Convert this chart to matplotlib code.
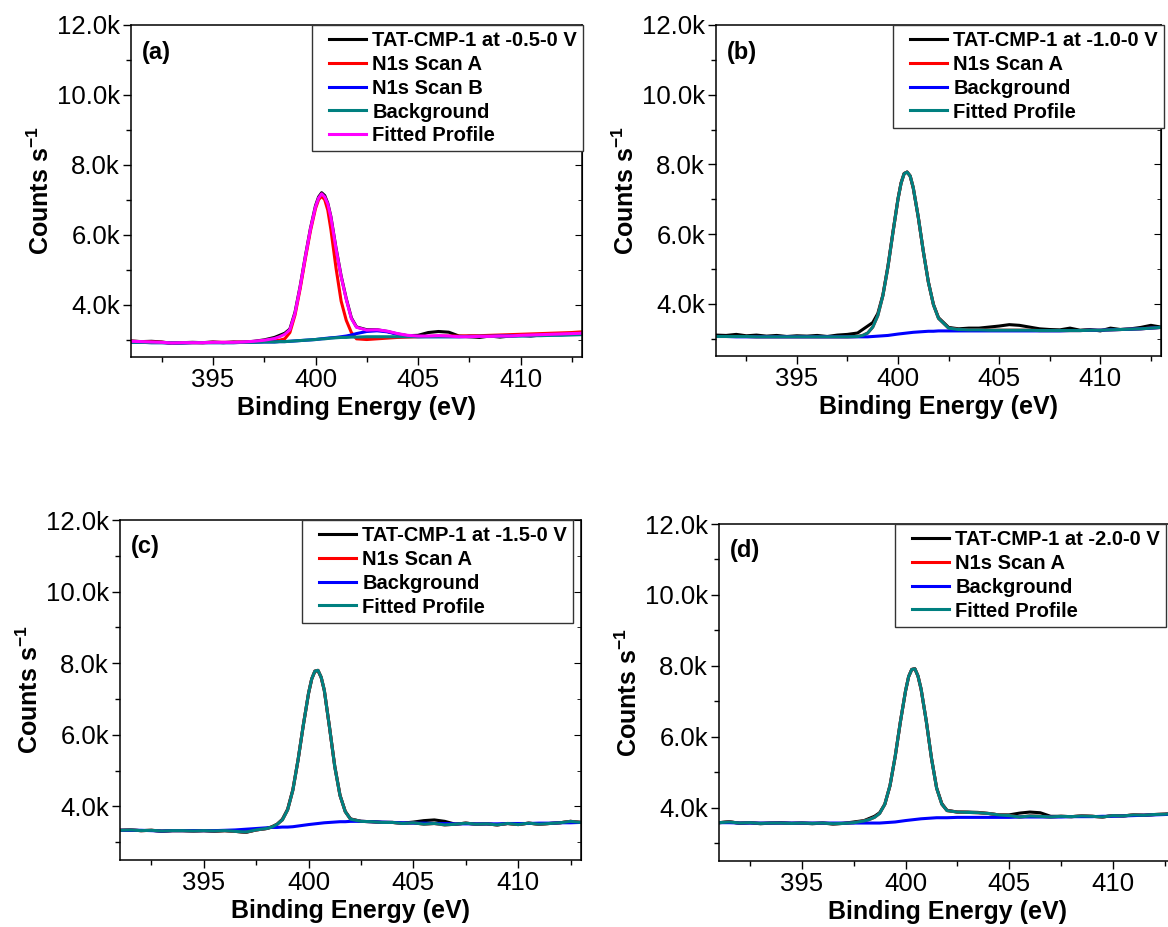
import matplotlib
matplotlib.use("Agg")
import matplotlib.pyplot as plt
from matplotlib.lines import Line2D
from matplotlib.legend_handler import HandlerLine2D
from matplotlib.ticker import AutoMinorLocator, FuncFormatter

plt.rcParams['font.family'] = ['Liberation Sans', 'DejaVu Sans']
plt.rcParams['mathtext.fontset'] = 'custom'
plt.rcParams['mathtext.rm'] = 'Liberation Sans:bold'
plt.rcParams['mathtext.bf'] = 'Liberation Sans:bold'
plt.rcParams['mathtext.default'] = 'bf'

# binding energy grid (eV), denser over the N1s peak
energy = [391, 391.5, 392, 392.5, 393, 393.5, 394, 394.5, 395, 395.5, 396, 396.5, 397, 397.5,
          398, 398.25, 398.5, 398.75, 399, 399.25, 399.5, 399.75, 400, 400.15, 400.3, 400.45,
          400.6, 400.75, 401, 401.25, 401.5, 401.75, 402,
          402.5, 403, 403.5, 404, 404.5, 405, 405.5, 406, 406.5, 407, 407.5, 408, 408.5, 409,
          409.5, 410, 410.5, 411, 411.5, 412, 412.5, 413]

# counts per second, in thousands
# (a) -0.5-0 V
data_a = [2.96, 2.94, 2.95, 2.93, 2.89, 2.91, 2.92, 2.91, 2.93, 2.91, 2.93, 2.92, 2.95, 2.99,
          3.06, 3.12, 3.18, 3.30, 3.78, 4.52, 5.37, 6.17, 6.83, 7.08, 7.20, 7.12, 6.90, 6.52, 5.62, 4.82, 4.17, 3.62, 3.36,
          3.28, 3.28, 3.23, 3.16, 3.11, 3.12, 3.20, 3.23, 3.21, 3.10, 3.08, 3.06, 3.10, 3.07, 3.10, 3.12, 3.10, 3.13, 3.14, 3.15, 3.17, 3.19]
scan_a_a = [2.95, 2.94, 2.93, 2.92, 2.90, 2.91, 2.91, 2.91, 2.92, 2.92, 2.92, 2.93, 2.94, 2.95,
            2.96, 2.98, 3.02, 3.20, 3.70, 4.45, 5.30, 6.10, 6.75, 7.00, 7.10, 7.00, 6.70, 6.15, 5.05, 4.10, 3.55, 3.20, 3.02,
            3.00, 3.02, 3.04, 3.06, 3.07, 3.08, 3.09, 3.10, 3.10, 3.10, 3.11, 3.11, 3.12, 3.13, 3.14, 3.15, 3.16, 3.17, 3.18, 3.19, 3.20, 3.22]
scan_b_a = [2.92, 2.92, 2.91, 2.91, 2.90, 2.90, 2.91, 2.91, 2.91, 2.91, 2.91, 2.92, 2.92, 2.93,
            2.93, 2.94, 2.94, 2.95, 2.96, 2.97, 2.98, 2.99, 3.00, 3.01, 3.02, 3.03, 3.04, 3.05, 3.06, 3.08, 3.10, 3.13, 3.17,
            3.23, 3.25, 3.22, 3.15, 3.10, 3.08, 3.08, 3.08, 3.08, 3.08, 3.09, 3.09, 3.09, 3.10, 3.10, 3.11, 3.11, 3.12, 3.13, 3.14, 3.15, 3.16]
bg_a = [2.92, 2.92, 2.91, 2.91, 2.90, 2.90, 2.91, 2.91, 2.91, 2.91, 2.91, 2.92, 2.92, 2.93,
        2.93, 2.94, 2.94, 2.95, 2.96, 2.97, 2.98, 2.99, 3.00, 3.01, 3.02, 3.02, 3.03, 3.04, 3.05, 3.06, 3.06, 3.07, 3.07,
        3.08, 3.08, 3.08, 3.08, 3.08, 3.08, 3.08, 3.08, 3.08, 3.08, 3.08, 3.09, 3.09, 3.09, 3.10, 3.10, 3.11, 3.11, 3.12, 3.12, 3.13, 3.14]
fit_a = [2.95, 2.94, 2.93, 2.92, 2.90, 2.91, 2.91, 2.91, 2.92, 2.92, 2.92, 2.93, 2.95, 2.98,
         3.03, 3.08, 3.15, 3.28, 3.75, 4.50, 5.35, 6.15, 6.80, 7.05, 7.17, 7.08, 6.88, 6.50, 5.60, 4.80, 4.15, 3.60, 3.35,
         3.27, 3.28, 3.24, 3.17, 3.12, 3.10, 3.10, 3.11, 3.10, 3.08, 3.08, 3.09, 3.09, 3.10, 3.10, 3.12, 3.13, 3.14, 3.15, 3.16, 3.17, 3.18]

# (b) -1.0-0 V
data_b = [3.10, 3.09, 3.12, 3.08, 3.10, 3.07, 3.09, 3.06, 3.08, 3.07, 3.09, 3.06, 3.10, 3.12,
          3.16, 3.26, 3.36, 3.46, 3.72, 4.25, 5.08, 6.07, 7.02, 7.47, 7.74, 7.78, 7.66, 7.32, 6.48, 5.50, 4.62, 3.98, 3.60,
          3.32, 3.28, 3.30, 3.30, 3.33, 3.36, 3.40, 3.38, 3.33, 3.28, 3.26, 3.25, 3.30, 3.24, 3.26, 3.22, 3.30, 3.26, 3.28, 3.32, 3.38, 3.33]
bg_b = [3.06, 3.06, 3.05, 3.05, 3.05, 3.05, 3.05, 3.05, 3.05, 3.05, 3.05, 3.05, 3.05, 3.05,
        3.05, 3.05, 3.05, 3.06, 3.07, 3.08, 3.09, 3.11, 3.13, 3.14, 3.15, 3.16, 3.17, 3.18, 3.19, 3.20, 3.21, 3.21, 3.22,
        3.22, 3.22, 3.22, 3.22, 3.22, 3.22, 3.22, 3.22, 3.22, 3.22, 3.22, 3.22, 3.23, 3.23, 3.24, 3.24, 3.25, 3.26, 3.27, 3.28, 3.30, 3.32]
fit_b = [3.06, 3.06, 3.06, 3.06, 3.05, 3.05, 3.05, 3.05, 3.05, 3.05, 3.05, 3.05, 3.05, 3.05,
         3.06, 3.09, 3.16, 3.33, 3.66, 4.23, 5.05, 6.05, 7.01, 7.46, 7.73, 7.78, 7.67, 7.34, 6.49, 5.50, 4.62, 3.97, 3.58,
         3.30, 3.26, 3.25, 3.25, 3.24, 3.24, 3.24, 3.24, 3.24, 3.23, 3.23, 3.23, 3.23, 3.23, 3.24, 3.24, 3.25, 3.26, 3.27, 3.28, 3.30, 3.32]

# (c) -1.5-0 V
data_c = [3.33, 3.34, 3.32, 3.33, 3.30, 3.32, 3.32, 3.31, 3.32, 3.30, 3.32, 3.30, 3.27, 3.34,
          3.38, 3.43, 3.50, 3.64, 3.92, 4.47, 5.30, 6.28, 7.16, 7.56, 7.77, 7.79, 7.60, 7.23, 6.20, 5.12, 4.31, 3.86, 3.65,
          3.58, 3.57, 3.55, 3.55, 3.53, 3.56, 3.60, 3.62, 3.58, 3.50, 3.53, 3.50, 3.51, 3.48, 3.52, 3.49, 3.53, 3.50, 3.52, 3.54, 3.58, 3.55]
bg_c = [3.33, 3.33, 3.33, 3.32, 3.31, 3.32, 3.32, 3.32, 3.32, 3.32, 3.33, 3.34, 3.36, 3.38,
        3.40, 3.41, 3.41, 3.42, 3.42, 3.43, 3.45, 3.47, 3.49, 3.50, 3.51, 3.52, 3.53, 3.54, 3.55, 3.56, 3.57, 3.57, 3.58,
        3.58, 3.57, 3.56, 3.55, 3.54, 3.53, 3.53, 3.52, 3.52, 3.51, 3.51, 3.51, 3.51, 3.51, 3.52, 3.52, 3.52, 3.53, 3.53, 3.54, 3.54, 3.55]
fit_c = [3.33, 3.34, 3.32, 3.33, 3.31, 3.32, 3.32, 3.31, 3.32, 3.31, 3.32, 3.30, 3.28, 3.34,
         3.38, 3.42, 3.50, 3.62, 3.90, 4.45, 5.31, 6.27, 7.17, 7.56, 7.78, 7.80, 7.61, 7.25, 6.20, 5.10, 4.30, 3.85, 3.64,
         3.58, 3.57, 3.55, 3.55, 3.52, 3.54, 3.50, 3.52, 3.48, 3.50, 3.53, 3.50, 3.51, 3.48, 3.52, 3.49, 3.53, 3.50, 3.52, 3.54, 3.58, 3.55]

# (d) -2.0-0 V
data_d = [3.58, 3.61, 3.56, 3.58, 3.55, 3.57, 3.58, 3.56, 3.57, 3.55, 3.57, 3.54, 3.56, 3.60,
          3.64, 3.70, 3.76, 3.86, 4.10, 4.62, 5.44, 6.42, 7.29, 7.70, 7.90, 7.92, 7.71, 7.34, 6.44, 5.40, 4.56, 4.12, 3.93,
          3.88, 3.88, 3.87, 3.84, 3.80, 3.80, 3.85, 3.88, 3.86, 3.76, 3.76, 3.75, 3.77, 3.76, 3.74, 3.78, 3.77, 3.80, 3.79, 3.81, 3.82, 3.84]
bg_d = [3.58, 3.58, 3.57, 3.57, 3.57, 3.57, 3.57, 3.57, 3.57, 3.57, 3.57, 3.57, 3.57, 3.57,
        3.57, 3.57, 3.57, 3.57, 3.58, 3.59, 3.60, 3.62, 3.64, 3.65, 3.66, 3.67, 3.68, 3.69, 3.70, 3.71, 3.72, 3.72, 3.72,
        3.73, 3.73, 3.73, 3.73, 3.73, 3.73, 3.74, 3.74, 3.74, 3.74, 3.74, 3.75, 3.75, 3.75, 3.76, 3.76, 3.77, 3.78, 3.79, 3.80, 3.81, 3.83]
fit_d = [3.58, 3.60, 3.57, 3.58, 3.56, 3.57, 3.57, 3.56, 3.57, 3.56, 3.57, 3.55, 3.56, 3.58,
         3.63, 3.67, 3.73, 3.84, 4.10, 4.63, 5.45, 6.42, 7.30, 7.70, 7.90, 7.92, 7.72, 7.35, 6.45, 5.40, 4.55, 4.10, 3.92,
         3.88, 3.87, 3.86, 3.84, 3.80, 3.78, 3.74, 3.77, 3.76, 3.74, 3.76, 3.75, 3.77, 3.76, 3.74, 3.78, 3.77, 3.80, 3.79, 3.81, 3.82, 3.84]

voltages = ["-0.5-0 V", "-1.0-0 V", "-1.5-0 V", "-2.0-0 V"]
tags = ["(a)", "(b)", "(c)", "(d)"]

BLACK, RED, BLUE, TEAL, MAGENTA = "#000000", "#ff0000", "#0000ff", "#008080", "#ff00ff"

series = [
    [(data_a, BLACK, "TAT"), (scan_a_a, RED, "N1s Scan A"), (scan_b_a, BLUE, "N1s Scan B"),
     (bg_a, TEAL, "Background"), (fit_a, MAGENTA, "Fitted Profile")],
    [(data_b, BLACK, "TAT"), (fit_b, RED, "N1s Scan A"), (bg_b, BLUE, "Background"),
     (fit_b, TEAL, "Fitted Profile")],
    [(data_c, BLACK, "TAT"), (fit_c, RED, "N1s Scan A"), (bg_c, BLUE, "Background"),
     (fit_c, TEAL, "Fitted Profile")],
    [(data_d, BLACK, "TAT"), (fit_d, RED, "N1s Scan A"), (bg_d, BLUE, "Background"),
     (fit_d, TEAL, "Fitted Profile")],
]

W, H = 1168, 927
# axes boxes in pixels: left, right, top, bottom
boxes = [(131, 582, 25, 357), (716, 1161, 25, 356), (120, 581, 520, 860), (719, 1175, 524, 861)]
legend_left = [312, 893, 302, 895]

fig = plt.figure(figsize=(W / 100, H / 100), dpi=100)

for i in range(4):
    l, r, t, b = boxes[i]
    ax = fig.add_axes([l / W, 1 - b / H, (r - l) / W, (b - t) / H])
    for vals, col, lab in series[i]:
        if lab == "TAT":
            lab = "TAT-CMP-1 at " + voltages[i]
        ax.plot(energy, vals, color=col, lw=2.2, label=lab, solid_joinstyle='round')

    ax.set_xlim(391, 413)
    ax.set_ylim(2.5, 12.0)
    ax.set_xticks([395, 400, 405, 410])
    ax.set_yticks([4, 6, 8, 10, 12])
    ax.xaxis.set_minor_locator(AutoMinorLocator(2))
    ax.yaxis.set_minor_locator(AutoMinorLocator(2))
    ax.yaxis.set_major_formatter(FuncFormatter(lambda v, p: f"{v:.1f}k"))
    ax.tick_params(which='major', direction='out', length=6, width=1, labelsize=18.5, pad=2)
    ax.tick_params(which='minor', direction='out', length=3.5, width=1)
    for s in ax.spines.values():
        s.set_linewidth(1.1)

    sec = ax.secondary_yaxis('right')
    sec.set_yticks([4, 6, 8, 10, 12])
    sec.yaxis.set_minor_locator(AutoMinorLocator(2))
    sec.tick_params(which='both', direction='in', labelright=False)
    sec.tick_params(which='major', length=5)
    sec.tick_params(which='minor', length=3)

    ax.set_xlabel("Binding Energy (eV)", fontsize=18, fontweight='bold', labelpad=3)
    ax.set_ylabel(r"Counts s$^{-1}$", fontsize=18, fontweight='bold', labelpad=2)
    ax.text(11 / (r - l), 1 - 27 / (b - t), tags[i], transform=ax.transAxes,
            fontsize=17, fontweight='bold', va='center', ha='left')

    leg = ax.legend(loc='upper left', bbox_to_anchor=((legend_left[i] - l) / (r - l), 1.0),
                    borderaxespad=0, fancybox=False, framealpha=1, edgecolor='#333333',
                    prop={'weight': 'bold', 'size': 14.5}, handlelength=2.4, handletextpad=0.3,
                    labelspacing=0.24, borderpad=0.3,
                    handler_map={Line2D: HandlerLine2D(xpad=0.55)})
    leg.get_frame().set_linewidth(1.0)

fig.savefig("out.png", dpi=100)
